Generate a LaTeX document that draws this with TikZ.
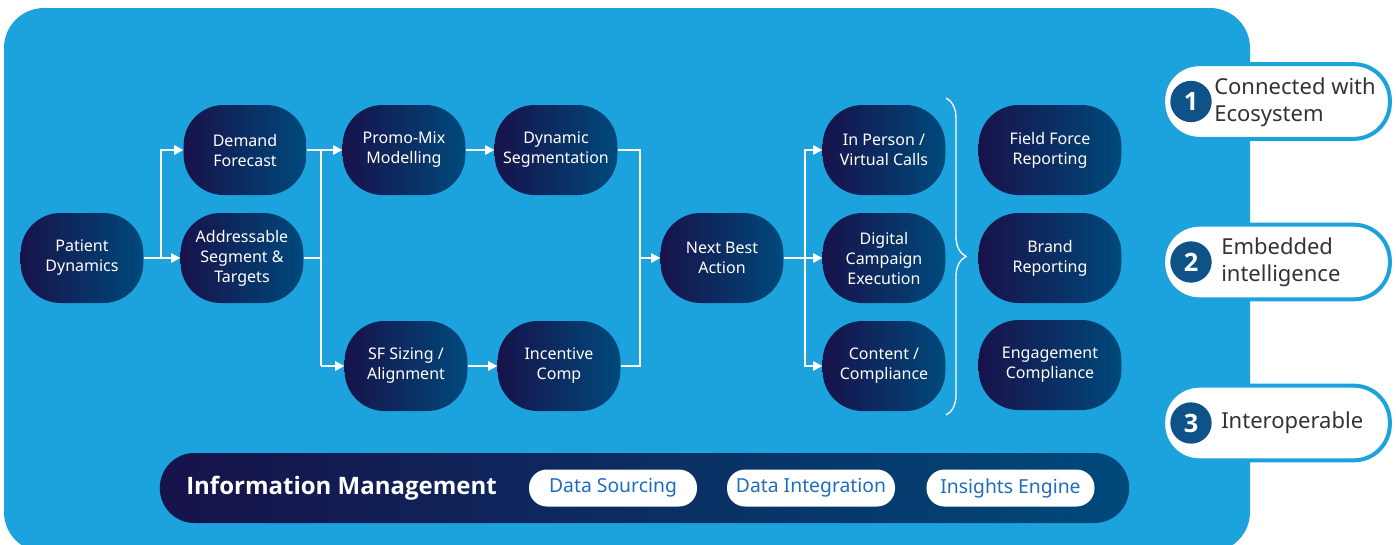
\documentclass[tikz,border=0pt]{standalone}
\usepackage{fontspec}
\setmainfont{Noto Sans}
\newfontfamily\headsans{Open Sans}
\usetikzlibrary{arrows.meta,decorations.pathreplacing}
\definecolor{bgblue}{HTML}{1CA2DC}
\definecolor{navyL}{HTML}{17124A}
\definecolor{navyR}{HTML}{00497B}
\definecolor{numblue}{HTML}{0E5288}
\definecolor{chipblue}{HTML}{1E6EBE}
\definecolor{greytxt}{HTML}{333333}

\begin{document}
\begin{tikzpicture}[x=0.75pt,y=-0.75pt,
	blob/.style={rectangle, rounded corners=30pt, minimum width=92pt, minimum height=67.5pt, inner sep=1pt,
		left color=navyL, right color=navyR, text=white, align=center, font=\fontsize{12}{15}\selectfont},
	wideblob/.style={blob, minimum width=107pt},
	line/.style={white, line width=1.5pt},
	flow/.style={line, -{Triangle[length=7pt,width=7pt]}},
	pill/.style={rectangle, rounded corners=27pt, minimum width=170pt, minimum height=56pt, fill=white, draw=bgblue, line width=3pt},
	num/.style={circle, fill=numblue, minimum size=31pt, inner sep=0pt, text=white, font=\headsans\fontsize{19}{19}\selectfont\bfseries},
	feat/.style={anchor=west, inner sep=0pt, align=left, text=greytxt, font=\fontsize{16.5}{20}\selectfont},
	bar/.style={rectangle, rounded corners=26pt, minimum width=727pt, minimum height=52.5pt, left color=navyL, right color=navyR},
	chip/.style={rectangle, rounded corners=13.5pt, minimum width=126pt, minimum height=27.75pt, inner sep=0pt, fill=white, text=chipblue, font=\fontsize{14.5}{15}\selectfont}]
				  \useasboundingbox (0,0) rectangle (1396,544);
				  %BACKGROUND
				  \fill[bgblue, rounded corners=30pt] (4,8) rectangle (1250,552);

				  %FLOW NODES
				  \node[blob] (PD) at (82,258) {Patient\\Dynamics};
				  \node[blob] (DF) at (245,150) {Demand\\Forecast};
				  \node[blob] (AST) at (242,258) {Addressable\\Segment \&\\Targets};
				  \node[blob] (PMM) at (404,150) {Promo-Mix\\Modelling};
				  \node[blob] (DS) at (556,150) {Dynamic\\Segmentation};
				  \node[blob] (SFS) at (406,366) {SF Sizing /\\Alignment};
				  \node[blob] (IC) at (559,366) {Incentive\\Comp};
				  \node[blob] (NBA) at (722,258) {Next Best\\Action};
				  \node[blob] (IPV) at (884,150) {In Person /\\Virtual Calls};
				  \node[blob] (DCE) at (884,258) {Digital\\Campaign\\Execution};
				  \node[blob] (CC) at (884,366) {Content /\\Compliance};
				  \node[wideblob] (FFR) at (1050,150) {Field Force\\Reporting};
				  \node[wideblob] (BR) at (1050,258) {Brand\\Reporting};
				  \node[wideblob] (EC) at (1050,365) {Engagement\\Compliance};

				  %JUNCTIONS
				  \coordinate (J1) at (161,258);
				  \coordinate (J2) at (321,150);
				  \coordinate (J3) at (321,366);
				  \coordinate (J4) at (640,258);
				  \coordinate (J5) at (805,258);

				  %CONNECTORS
				  \draw[flow] (PD) -- (AST);
				  \draw[flow] (J1) |- (DF);
				  \draw[line] (DF) -- (J2);
				  \draw[line] (AST) -- (AST -| J2);
				  \draw[line] (J2) -- (J3);
				  \draw[flow] (J2) -- (PMM);
				  \draw[flow] (J3) -- (SFS);
				  \draw[flow] (PMM) -- (DS);
				  \draw[flow] (SFS) -- (IC);
				  \draw[line] (DS) -| (J4) |- (IC);
				  \draw[flow] (J4) -- (NBA);
				  \draw[flow] (NBA) -- (DCE);
				  \draw[flow] (J5) |- (IPV);
				  \draw[flow] (J5) |- (CC);

				  %BRACE
				  \coordinate (BT) at (946,98);
				  \coordinate (BB) at (946,415);
				  \draw[white, line width=1pt, decorate, decoration={brace, amplitude=15pt}] (BT) -- (BB);

				  %INFORMATION MANAGEMENT
				  \node[bar] (IM) at (644.5,488) {};
				  \node[anchor=west, inner sep=0pt, text=white, font=\headsans\fontsize{18}{18}\selectfont\bfseries] (IMT) at (186,488) {Information Management};
				  \node[chip] (DSo) at (613,488) {Data Sourcing};
				  \node[chip] (DI) at (811,488) {Data Integration};
				  \node[chip] (IE) at (1010.5,488) {Insights Engine};

				  %FEATURES 1,2,3
				  \node[pill] (P1) at (1276.5,101.5) {};
				  \node[pill] (P2) at (1276.5,262) {};
				  \node[pill] (P3) at (1276.5,423) {};
				  \node[num] (N1) at (1191,101.5) {1};
				  \node[num] (N2) at (1191,262) {2};
				  \node[num] (N3) at (1191,423) {3};
				  \node[feat] (F1) at (1214,102) {Connected with\\Ecosystem};
				  \node[feat] (F2) at (1221,262) {Embedded\\intelligence};
				  \node[feat] (F3) at (1221,423) {Interoperable};
				  \end{tikzpicture}
\end{document}
